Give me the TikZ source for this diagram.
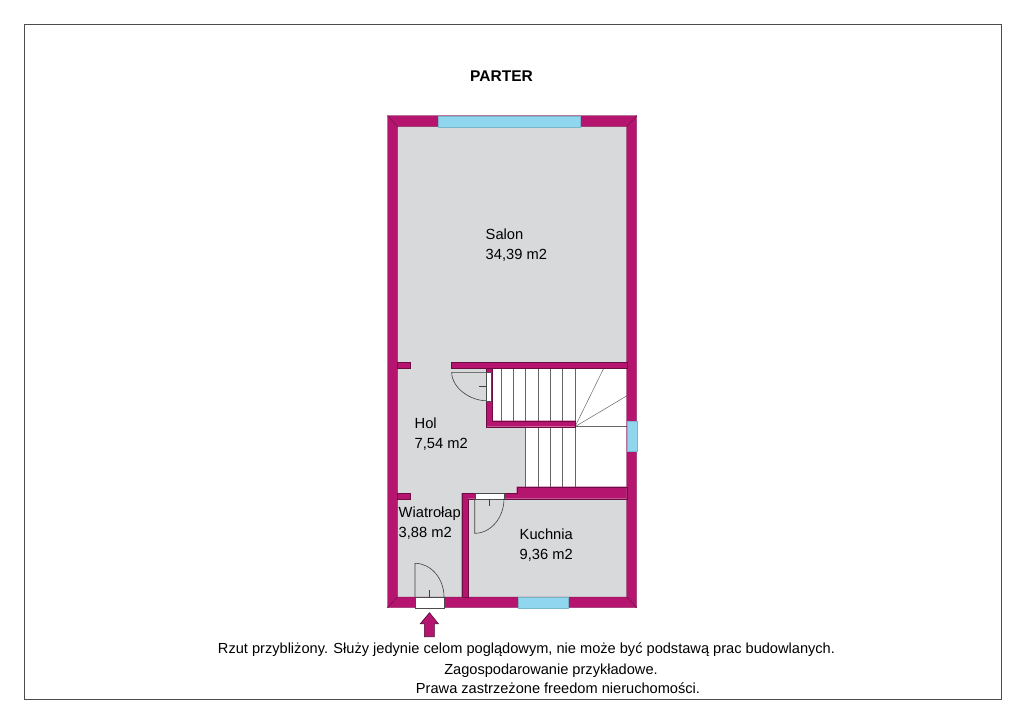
\documentclass[tikz,border=0pt]{standalone}
\usepackage{fontspec}
\setmainfont{Liberation Sans}
\definecolor{wallc}{HTML}{B5146F}
\definecolor{floorc}{HTML}{D8D9DB}
\definecolor{glassc}{HTML}{90D6EF}
\tikzset{
  wall/.style={fill=wallc,draw=wallc!60!black,line width=0.3pt},
  glass/.style={fill=glassc,draw=glassc!85!black,line width=0.2pt},
  opening/.style={fill=white,draw=black!70,line width=0.4pt},
  leaf/.style={draw=black!75,line width=0.6pt},
  tread/.style={draw=black!60,line width=0.5pt},
  room/.style={font=\fontsize{14.7}{17}\selectfont,align=left,anchor=north west,inner sep=0pt},
  note/.style={font=\fontsize{14.6}{17}\selectfont,inner sep=0pt,anchor=base}
}
\begin{document}
\begin{tikzpicture}[x=1pt,y=-1pt]
\useasboundingbox (0,0) rectangle (1024,724);
\fill[white] (0,0) rectangle (1024,724);
\draw[black!70,line width=0.8pt] (24.5,24.5) rectangle (1001,699.5);
% floor
\fill[floorc] (397,126) rectangle (627,597);
% stairs
\fill[white] (492,367) rectangle (627,421);
\fill[white] (525.5,421) rectangle (627,487);
\foreach \i in {501.7,513.7,525.7,538,550.3,562.7,575.3} {
  \draw[tread] (\i,367.7) -- (\i,420.7);
}
\foreach \i in {525.5,538,550.3,562.7,575.3} {
  \draw[tread] (\i,426.7) -- (\i,486.7);
}
\draw[tread] (575,426.7) -- (627,426.7);
\draw[tread] (575,426.7) -- (604,367.7);
\draw[tread] (575,426.7) -- (627,395.7);
% outer walls
\draw[wall] (387.5,115.7) -- (636.7,115.7) -- (626.7,126.7) -- (397.5,126.7) -- cycle;
\draw[wall] (387.5,115.7) -- (397.5,126.7) -- (397.5,597) -- (387.5,607.7) -- cycle;
\draw[wall] (636.7,115.7) -- (636.7,607.7) -- (626.7,597) -- (626.7,126.7) -- cycle;
\draw[wall] (387.5,607.7) -- (397.5,597) -- (626.7,597) -- (636.7,607.7) -- cycle;
% inner walls
\draw[wall] (397.5,362) rectangle (410,367.7);
\draw[wall] (397.5,493) rectangle (410,498.7);
\draw[wall] (451,362) rectangle (626.7,367.7);
\draw[wall] (486,367.7) -- (492,367.7) -- (492,420.7) -- (575,420.7) -- (575,426.7) -- (486,426.7) -- cycle;
\draw[wall] (516.7,486.7) -- (626.7,486.7) -- (626.7,498.7) -- (468,498.7) -- (468,597) -- (461.7,597) -- (461.7,493) -- (516.7,493) -- cycle;
% windows
\draw[glass] (437.7,115.7) rectangle (580,126.7);
\draw[glass] (517.7,597) rectangle (568.3,607.7);
\draw[glass] (626.7,420.7) rectangle (636.7,451);
% doors
\draw[opening] (486,372.3) rectangle (491.5,400.7);
\draw[leaf] (486,372.3) -- (451.7,372.3) .. controls (451.7,388) and (470.6,400.7) .. (486,400.7);
\draw[leaf] (479,386.5) -- (486,386.5);
\draw[opening] (474.7,493.3) rectangle (504,498.7);
\draw[leaf] (474.7,498.7) -- (474.7,533.3) .. controls (490.8,533.3) and (504,517.7) .. (504,498.7);
\draw[leaf] (489.3,498.7) -- (489.3,506);
\draw[opening] (415,597) rectangle (444,607.7);
\draw[leaf] (415,597) -- (415,563.3) .. controls (431,563.3) and (444,578.5) .. (444,597);
\draw[leaf] (429.7,590) -- (429.7,597);
% entrance
\draw[wall,draw=wallc!45!black,line width=0.6pt] (429.5,612.7) -- (438.3,623.7) -- (434.3,623.7) -- (434.3,636.7) -- (424.3,636.7) -- (424.3,623.7) -- (420.3,623.7) -- cycle;
% labels
\node[font=\bfseries\fontsize{15.5}{17}\selectfont,inner sep=0pt] (title) at (501.5,76) {PARTER};
\node[room] (salon) at (485.5,228.5) {Salon\\[3pt]34,39 m2};
\node[room] (hol) at (414.5,418) {Hol\\[3pt]7,54 m2};
\node[room] (wiatrolap) at (398.5,507) {Wiatrołap\\[3pt]3,88 m2};
\node[room] (kuchnia) at (519.5,529) {Kuchnia\\[3pt]9,36 m2};
\node[note] (noteone) at (526.5,653) {Rzut przybliżony. Służy jedynie celom poglądowym, nie może być podstawą prac budowlanych.};
\node[note] (notetwo) at (551,674) {Zagospodarowanie przykładowe.};
\node[note] (notethree) at (558,693) {Prawa zastrzeżone freedom nieruchomości.};
\end{tikzpicture}
\end{document}
